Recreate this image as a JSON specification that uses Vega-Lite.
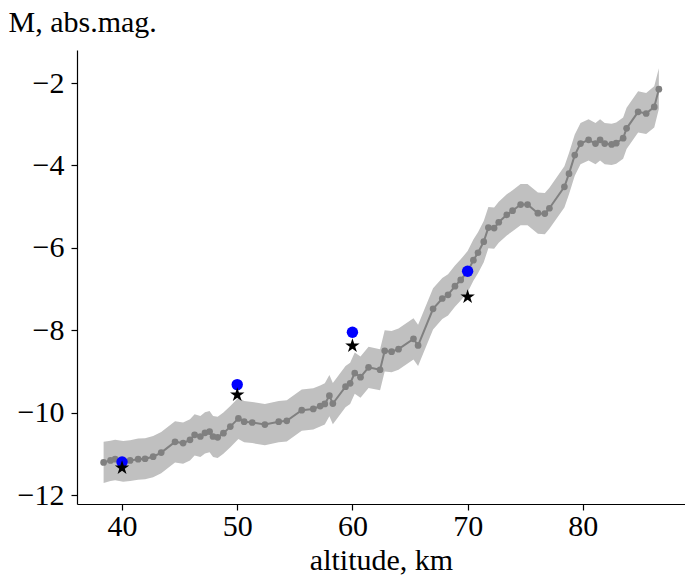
{
  "$schema": "https://vega.github.io/schema/vega-lite/v6.json",
  "width": 608,
  "height": 454,
  "autosize": {"type": "none"},
  "padding": {"left": 77, "top": 50, "right": 0, "bottom": 73},
  "background": "white",
  "config": {
    "view": {"stroke": null},
    "axis": {
      "grid": false,
      "domainColor": "black",
      "domainWidth": 1.2,
      "tickColor": "black",
      "tickWidth": 1.2,
      "tickSize": 6,
      "labelFont": "Liberation Serif",
      "labelFontSize": 30,
      "labelColor": "black",
      "labelPadding": 6,
      "labelFlush": false,
      "labelOverlap": false,
      "titleFont": "Liberation Serif",
      "titleFontSize": 30,
      "titleFontWeight": "normal",
      "titleColor": "black"
    }
  },
  "datasets": {
    "curve": [
      {"alt": 38.4, "M": -11.21, "lo": -11.71, "hi": -10.71},
      {"alt": 39.0, "M": -11.16, "lo": -11.66, "hi": -10.68},
      {"alt": 39.4, "M": -11.13, "lo": -11.64, "hi": -10.66},
      {"alt": 40.1, "M": -11.17, "lo": -11.68, "hi": -10.69},
      {"alt": 40.7, "M": -11.16, "lo": -11.66, "hi": -10.67},
      {"alt": 41.4, "M": -11.13, "lo": -11.63, "hi": -10.63},
      {"alt": 42.0, "M": -11.12, "lo": -11.62, "hi": -10.62},
      {"alt": 42.7, "M": -11.07, "lo": -11.57, "hi": -10.57},
      {"alt": 43.4, "M": -10.97, "lo": -11.47, "hi": -10.47},
      {"alt": 44.6, "M": -10.71, "lo": -11.21, "hi": -10.21},
      {"alt": 45.3, "M": -10.74, "lo": -11.24, "hi": -10.24},
      {"alt": 45.9, "M": -10.66, "lo": -11.16, "hi": -10.16},
      {"alt": 46.3, "M": -10.54, "lo": -11.04, "hi": -10.04},
      {"alt": 46.8, "M": -10.58, "lo": -11.08, "hi": -10.08},
      {"alt": 47.2, "M": -10.49, "lo": -10.99, "hi": -9.99},
      {"alt": 47.6, "M": -10.46, "lo": -10.96, "hi": -9.96},
      {"alt": 47.9, "M": -10.58, "lo": -11.08, "hi": -10.08},
      {"alt": 48.3, "M": -10.60, "lo": -11.10, "hi": -10.10},
      {"alt": 48.8, "M": -10.50, "lo": -11.00, "hi": -10.00},
      {"alt": 49.4, "M": -10.34, "lo": -10.84, "hi": -9.84},
      {"alt": 50.1, "M": -10.14, "lo": -10.64, "hi": -9.64},
      {"alt": 50.6, "M": -10.22, "lo": -10.72, "hi": -9.72},
      {"alt": 51.3, "M": -10.24, "lo": -10.74, "hi": -9.74},
      {"alt": 52.4, "M": -10.29, "lo": -10.79, "hi": -9.79},
      {"alt": 53.6, "M": -10.22, "lo": -10.72, "hi": -9.72},
      {"alt": 54.3, "M": -10.20, "lo": -10.70, "hi": -9.70},
      {"alt": 55.6, "M": -9.94, "lo": -10.44, "hi": -9.44},
      {"alt": 56.6, "M": -9.91, "lo": -10.41, "hi": -9.41},
      {"alt": 57.2, "M": -9.84, "lo": -10.34, "hi": -9.34},
      {"alt": 57.6, "M": -9.79, "lo": -10.29, "hi": -9.29},
      {"alt": 58.0, "M": -9.59, "lo": -10.09, "hi": -9.09},
      {"alt": 58.3, "M": -9.78, "lo": -10.28, "hi": -9.28},
      {"alt": 59.4, "M": -9.37, "lo": -9.87, "hi": -8.87},
      {"alt": 59.8, "M": -9.29, "lo": -9.79, "hi": -8.79},
      {"alt": 60.2, "M": -9.04, "lo": -9.54, "hi": -8.54},
      {"alt": 60.7, "M": -9.14, "lo": -9.64, "hi": -8.64},
      {"alt": 61.4, "M": -8.90, "lo": -9.40, "hi": -8.40},
      {"alt": 62.4, "M": -8.96, "lo": -9.46, "hi": -8.46},
      {"alt": 62.8, "M": -8.50, "lo": -9.00, "hi": -8.00},
      {"alt": 63.4, "M": -8.52, "lo": -9.02, "hi": -8.02},
      {"alt": 64.0, "M": -8.46, "lo": -8.96, "hi": -7.96},
      {"alt": 65.3, "M": -8.21, "lo": -8.71, "hi": -7.71},
      {"alt": 65.7, "M": -8.37, "lo": -8.87, "hi": -7.87},
      {"alt": 67.0, "M": -7.48, "lo": -7.98, "hi": -6.98},
      {"alt": 67.8, "M": -7.23, "lo": -7.73, "hi": -6.73},
      {"alt": 68.3, "M": -7.14, "lo": -7.64, "hi": -6.64},
      {"alt": 68.9, "M": -6.93, "lo": -7.43, "hi": -6.43},
      {"alt": 69.4, "M": -6.78, "lo": -7.28, "hi": -6.28},
      {"alt": 70.0, "M": -6.58, "lo": -7.08, "hi": -6.08},
      {"alt": 70.5, "M": -6.30, "lo": -6.80, "hi": -5.80},
      {"alt": 70.9, "M": -6.12, "lo": -6.62, "hi": -5.62},
      {"alt": 71.4, "M": -5.85, "lo": -6.35, "hi": -5.35},
      {"alt": 71.8, "M": -5.51, "lo": -6.01, "hi": -5.01},
      {"alt": 72.3, "M": -5.52, "lo": -6.02, "hi": -5.02},
      {"alt": 72.7, "M": -5.38, "lo": -5.88, "hi": -4.88},
      {"alt": 73.4, "M": -5.20, "lo": -5.70, "hi": -4.70},
      {"alt": 73.9, "M": -5.10, "lo": -5.60, "hi": -4.60},
      {"alt": 74.6, "M": -4.95, "lo": -5.45, "hi": -4.45},
      {"alt": 75.2, "M": -4.95, "lo": -5.45, "hi": -4.45},
      {"alt": 76.1, "M": -5.16, "lo": -5.66, "hi": -4.66},
      {"alt": 76.7, "M": -5.17, "lo": -5.67, "hi": -4.67},
      {"alt": 77.1, "M": -5.04, "lo": -5.54, "hi": -4.54},
      {"alt": 78.4, "M": -4.52, "lo": -5.02, "hi": -4.02},
      {"alt": 78.8, "M": -4.20, "lo": -4.70, "hi": -3.70},
      {"alt": 79.3, "M": -3.75, "lo": -4.25, "hi": -3.25},
      {"alt": 79.8, "M": -3.47, "lo": -3.97, "hi": -2.97},
      {"alt": 80.5, "M": -3.38, "lo": -3.88, "hi": -2.88},
      {"alt": 81.1, "M": -3.47, "lo": -3.97, "hi": -2.97},
      {"alt": 81.5, "M": -3.38, "lo": -3.88, "hi": -2.88},
      {"alt": 81.9, "M": -3.47, "lo": -3.97, "hi": -2.97},
      {"alt": 82.5, "M": -3.49, "lo": -3.99, "hi": -2.99},
      {"alt": 82.9, "M": -3.46, "lo": -3.96, "hi": -2.96},
      {"alt": 83.5, "M": -3.34, "lo": -3.84, "hi": -2.84},
      {"alt": 83.8, "M": -3.10, "lo": -3.60, "hi": -2.60},
      {"alt": 84.8, "M": -2.70, "lo": -3.20, "hi": -2.20},
      {"alt": 85.5, "M": -2.74, "lo": -3.24, "hi": -2.24},
      {"alt": 86.2, "M": -2.58, "lo": -3.08, "hi": -2.08},
      {"alt": 86.6, "M": -2.15, "lo": -2.63, "hi": -1.64}
    ],
    "obs": [
      {"alt": 40, "blue": -11.20, "star": -11.34},
      {"alt": 50, "blue": -9.32, "star": -9.57},
      {"alt": 60, "blue": -8.05, "star": -8.38},
      {"alt": 70, "blue": -6.57, "star": -7.19}
    ]
  },
  "layer": [
    {
      "data": {"name": "curve"},
      "mark": {"type": "area", "color": "#c0c0c0", "opacity": 1},
      "encoding": {
        "x": {
          "field": "alt", "type": "quantitative", "title": "altitude, km",
          "scale": {"domain": [36.09, 88.87], "nice": false, "zero": false},
          "axis": {"orient": "bottom", "values": [40, 50, 60, 70, 80], "labelPadding": 1, "titleX": 304, "titleY": 65, "titleAlign": "center", "titleBaseline": "alphabetic"}
        },
        "y": {
          "field": "lo", "type": "quantitative", "title": "M, abs.mag.",
          "scale": {"domain": [-12.218, -1.199], "nice": false, "zero": false},
          "axis": {"orient": "left", "values": [-12, -10, -8, -6, -4, -2], "labelPadding": 7, "titleAngle": 0, "titleAlign": "left", "titleBaseline": "alphabetic", "titleX": -69, "titleY": -19}
        },
        "y2": {"field": "hi"}
      }
    },
    {
      "data": {"name": "curve"},
      "mark": {"type": "line", "color": "#808080", "strokeWidth": 2, "point": {"filled": true, "size": 45, "color": "#808080", "opacity": 1}},
      "encoding": {
        "x": {"field": "alt", "type": "quantitative", "title": "altitude, km"},
        "y": {"field": "M", "type": "quantitative", "title": "M, abs.mag."}
      }
    },
    {
      "data": {"name": "obs"},
      "mark": {"type": "point", "shape": "circle", "filled": true, "size": 130, "color": "#0000ff", "opacity": 1},
      "encoding": {
        "x": {"field": "alt", "type": "quantitative", "title": "altitude, km"},
        "y": {"field": "blue", "type": "quantitative", "title": "M, abs.mag."}
      }
    },
    {
      "data": {"name": "obs"},
      "mark": {"type": "point", "shape": "M0,-1L0.225,-0.309L0.951,-0.309L0.363,0.118L0.588,0.809L0,0.382L-0.588,0.809L-0.363,0.118L-0.951,-0.309L-0.225,-0.309Z", "filled": true, "size": 230, "color": "black", "opacity": 1},
      "encoding": {
        "x": {"field": "alt", "type": "quantitative", "title": "altitude, km"},
        "y": {"field": "star", "type": "quantitative", "title": "M, abs.mag."}
      }
    }
  ]
}
